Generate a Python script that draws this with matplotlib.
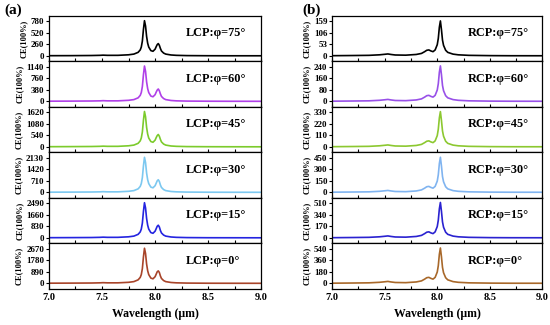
import matplotlib
matplotlib.use("Agg")
import matplotlib.pyplot as plt

plt.rcParams['font.family'] = ['Liberation Serif', 'DejaVu Serif']
plt.rcParams['font.weight'] = 'bold'

# --- data ---
angles = [75, 60, 45, 30, 15, 0]

wl_lcp = [7.0, 7.2, 7.4, 7.48, 7.51, 7.55, 7.65, 7.75, 7.8, 7.84, 7.86, 7.87, 7.88,
          7.89, 7.9, 7.91, 7.92, 7.93, 7.94, 7.96, 7.98, 8.0, 8.01, 8.02, 8.03,
          8.04, 8.05, 8.06, 8.08, 8.1, 8.15, 8.2, 8.3, 8.5, 8.7, 9.0]

lcp_75 = [4, 5, 8, 12, 16, 12, 12, 24, 40, 79, 134, 198, 332, 592, 790, 670, 435, 284,
          198, 118, 103, 150, 205, 253, 276, 237, 166, 110, 63, 40, 20, 12, 6, 3, 2, 2]
lcp_60 = [6, 8, 12, 17, 23, 17, 17, 35, 58, 116, 197, 290, 487, 870, 1160, 986, 638, 418,
          290, 174, 151, 220, 302, 371, 406, 348, 244, 162, 93, 58, 29, 17, 9, 5, 3, 2]
lcp_45 = [8, 12, 17, 25, 33, 25, 25, 50, 83, 165, 281, 413, 693, 1238, 1650, 1403, 908, 594,
          413, 248, 215, 314, 429, 528, 578, 495, 347, 231, 132, 83, 41, 25, 13, 7, 5, 3]
lcp_30 = [11, 15, 22, 32, 43, 32, 32, 65, 108, 215, 366, 538, 903, 1613, 2150, 1828, 1183, 774,
          538, 323, 280, 409, 559, 710, 774, 667, 452, 301, 172, 108, 54, 32, 17, 9, 6, 4]
lcp_15 = [13, 18, 25, 38, 50, 38, 38, 76, 126, 252, 428, 630, 1058, 1890, 2520, 2142, 1386, 907,
          630, 378, 328, 479, 655, 832, 907, 781, 529, 353, 202, 126, 63, 38, 20, 10, 8, 5]
lcp_0 = [14, 19, 27, 41, 54, 41, 41, 81, 135, 270, 459, 675, 1134, 2025, 2700, 2295, 1485, 972,
         675, 405, 351, 513, 702, 891, 959, 837, 567, 378, 216, 135, 68, 41, 22, 11, 8, 5]

wl_rcp = [7.0, 7.2, 7.35, 7.45, 7.5, 7.53, 7.56, 7.6, 7.7, 7.8, 7.85, 7.88, 7.9, 7.92,
          7.94, 7.96, 7.98, 8.0, 8.01, 8.02, 8.03, 8.04, 8.05, 8.06, 8.08, 8.1, 8.15,
          8.2, 8.3, 8.5, 8.7, 9.0]

rcp_75 = [0.8, 1.6, 2.4, 4.8, 7.2, 8.8, 6.4, 4.0, 3.2, 6.4, 11.2, 19.2, 25.6, 27.2, 22.4, 19.2,
          27.2, 51.2, 80, 131, 160, 120, 72, 48, 25.6, 16, 8, 4.8, 2.4, 1.1, 0.6, 0.5]
rcp_60 = [1.2, 2.5, 3.7, 7.4, 11, 13.5, 9.8, 6.1, 4.9, 9.8, 17.2, 29.4, 39.2, 41.7, 34.3, 29.4,
          41.7, 78.4, 122.5, 201, 245, 184, 110, 73.5, 39.2, 24.5, 12.3, 7.4, 3.7, 1.7, 1.0, 0.7]
rcp_45 = [1.7, 3.4, 5.0, 10.1, 15.1, 18.4, 13.4, 8.4, 6.7, 13.4, 23.5, 40.2, 53.6, 57, 46.9, 40.2,
          57, 107, 168, 275, 335, 251, 151, 101, 53.6, 33.5, 16.8, 10.1, 5.0, 2.3, 1.3, 1.0]
rcp_30 = [2.3, 4.6, 6.8, 13.7, 20.5, 25, 18.2, 11.4, 9.1, 18.2, 31.9, 54.6, 72.8, 77.4, 63.7, 54.6,
          77.4, 146, 228, 373, 455, 341, 205, 137, 72.8, 45.5, 22.8, 13.7, 6.8, 3.2, 1.8, 1.4]
rcp_15 = [2.6, 5.2, 7.8, 15.6, 23.4, 28.6, 20.8, 13, 10.4, 20.8, 36.4, 62.4, 83.2, 88.4, 72.8, 62.4,
          88.4, 166, 260, 426, 520, 390, 234, 156, 83.2, 52, 26, 15.6, 7.8, 3.6, 2.1, 1.6]
rcp_0 = [2.8, 5.5, 8.3, 16.5, 24.8, 30.3, 22, 13.8, 11, 22, 38.5, 66, 88, 93.5, 77, 66,
         93.5, 176, 275, 451, 550, 413, 248, 165, 88, 55, 27.5, 16.5, 8.3, 3.9, 2.2, 1.7]

lcp_series = [lcp_75, lcp_60, lcp_45, lcp_30, lcp_15, lcp_0]
rcp_series = [rcp_75, rcp_60, rcp_45, rcp_30, rcp_15, rcp_0]

lcp_top = [780, 1140, 1620, 2130, 2490, 2670]
rcp_top = [159, 240, 330, 450, 510, 540]

lcp_colors = ['#000000', '#B040E8', '#7CCB2C', '#7CC8F0', '#2424E0', '#A8442A']
rcp_colors = ['#000000', '#9850E8', '#8CC830', '#80B4F0', '#2A22D0', '#A8682A']

fig = plt.figure(figsize=(5.5, 3.25), dpi=100)


def draw_column(left, width, wl, series, tops, colors, pol):
    n = len(series)
    top, bottom = 0.951, 0.111
    h = (top - bottom) / n
    axes = []
    for i in range(n):
        ax = fig.add_axes([left, top - (i + 1) * h, width, h])
        ax.plot(wl, series[i], color=colors[i], lw=1.2)
        T = tops[i]
        ax.set_xlim(7.0, 9.0)
        ax.set_ylim(-0.16 * T, 1.15 * T)
        ax.set_yticks([0, T // 3, 2 * T // 3, T])
        ax.set_xticks([7.0, 7.25, 7.5, 7.75, 8.0, 8.25, 8.5, 8.75, 9.0])
        ax.tick_params(axis='y', direction='out', length=2, width=0.8, labelsize=6.5, pad=1.5)
        ax.tick_params(axis='x', direction='in', length=2.5, width=0.8, labelsize=7.5, pad=3)
        for lab in ax.get_yticklabels():
            lab.set_fontweight('bold')
        if i < n - 1:
            ax.set_xticklabels([])
        else:
            ax.set_xticklabels(['7.0', '', '7.5', '', '8.0', '', '8.5', '', '9.0'],
                               fontweight='bold')
            ax.set_xlabel('Wavelength (μm)', fontsize=8.5, fontweight='bold', labelpad=4)
        ax.set_ylabel('CE(100%)', fontsize=6, fontweight='bold', labelpad=2)
        for s in ax.spines.values():
            s.set_linewidth(0.9)
        ax.text(0.645, 0.62, f'{pol}:φ={angles[i]}°', transform=ax.transAxes,
                fontsize=8.8, fontweight='bold', va='center', ha='left')
        axes.append(ax)
    return axes


draw_column(0.089, 0.386, wl_lcp, lcp_series, lcp_top, lcp_colors, 'LCP')
draw_column(0.604, 0.382, wl_rcp, rcp_series, rcp_top, rcp_colors, 'RCP')

fig.text(0.008, 0.99, '(a)', fontsize=11, fontweight='bold', va='top', ha='left')
fig.text(0.55, 0.99, '(b)', fontsize=11, fontweight='bold', va='top', ha='left')

fig.savefig('out.png', dpi=100)
